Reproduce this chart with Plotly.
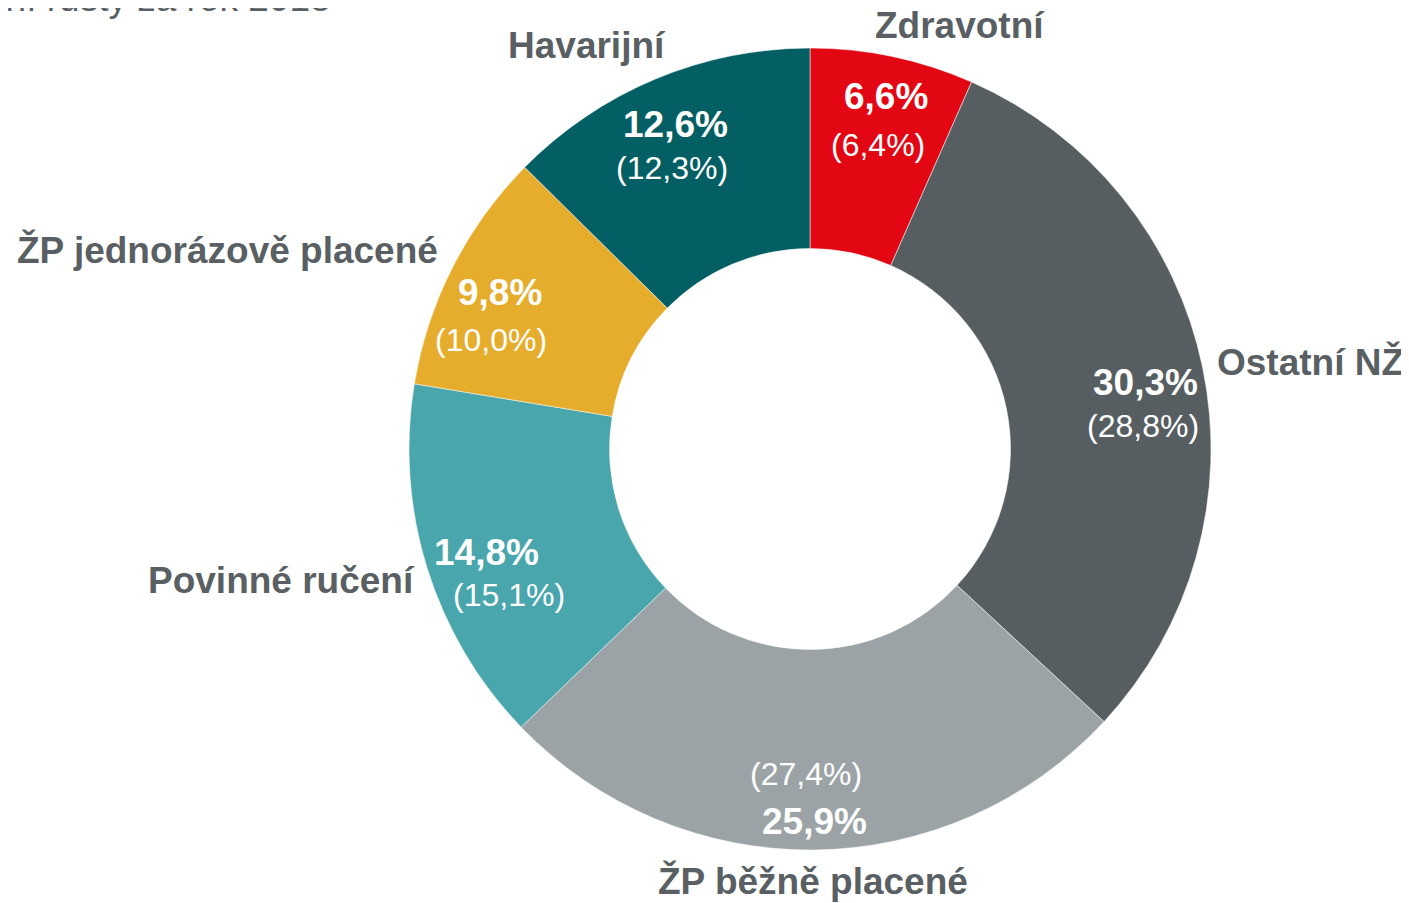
import plotly.graph_objects as go

# ---- data ----
categories = ["Zdravotní", "Ostatní NŽ", "ŽP běžně placené", "Povinné ručení",
              "ŽP jednorázově placené", "Havarijní"]
share_2018 = [6.6, 30.3, 25.9, 14.8, 9.8, 12.6]
share_2017 = [6.4, 28.8, 27.4, 15.1, 10.0, 12.3]
colors = ["#E30713", "#575E62", "#9CA3A6", "#48A6AC", "#E6AC2B", "#035F63"]
title_text = "Struktura předepsaného pojistného a meziroční růsty za rok 2018"

W, H = 1409, 903
OFF = 8  # page offset of the figure inside the browser window
CX, CY, R = 810 - OFF, 449 - OFF, 401

def fmt(v):
    return f"{v:.1f}".replace(".", ",") + "%"

fig = go.Figure(go.Pie(
    labels=categories,
    values=share_2018,
    marker=dict(colors=colors, line=dict(color="#FFFFFF", width=0.5)),
    hole=0.5,
    sort=False,
    direction="clockwise",
    rotation=0,
    textinfo="none",
    hoverinfo="label+percent",
    domain=dict(x=[(CX - R) / W, (CX + R) / W], y=[(H - CY - R) / H, (H - CY + R) / H]),
    showlegend=False,
))

# label layout (window pixel positions of text centres): current, previous, category
cur_pos = [(886, 96), (1145, 382), (814, 821), (486, 552), (500, 292), (675, 125)]
prev_pos = [(878, 145), (1143, 426), (806, 774), (509, 595), (491, 340), (672, 168)]
cat_pos = [(960, 25), (1310, 362), (813, 881), (281, 580), (228, 250), (587, 45)]

FONT = "Liberation Sans, Arial, sans-serif"
GRAY = "#595F63"

def px(x, y):
    return (x - OFF) / W, 1 - (y - OFF) / H

annotations = []
for i, c in enumerate(categories):
    x, y = px(*cur_pos[i])
    annotations.append(dict(x=x, y=y, xref="paper", yref="paper", showarrow=False,
                            text=f"<b>{fmt(share_2018[i])}</b>", xanchor="center", yanchor="middle",
                            font=dict(family=FONT, size=37, color="#FFFFFF")))
    x, y = px(*prev_pos[i])
    annotations.append(dict(x=x, y=y, xref="paper", yref="paper", showarrow=False,
                            text=f"({fmt(share_2017[i])})", xanchor="center", yanchor="middle",
                            font=dict(family=FONT, size=32, color="#FFFFFF")))
    x, y = px(*cat_pos[i])
    annotations.append(dict(x=x, y=y, xref="paper", yref="paper", showarrow=False,
                            text=f"<b>{c}</b>", xanchor="center", yanchor="middle",
                            font=dict(family=FONT, size=37, color=GRAY)))

# partially clipped title at the top-left
tx, ty = px(333, -2)
annotations.append(dict(x=tx, y=ty, xref="paper", yref="paper", showarrow=False,
                        text=title_text, xanchor="right", yanchor="middle",
                        font=dict(family=FONT, size=37, color=GRAY)))

fig.update_layout(
    width=W, height=H,
    margin=dict(l=0, r=0, t=0, b=0),
    paper_bgcolor="#FFFFFF",
    plot_bgcolor="#FFFFFF",
    annotations=annotations,
)

fig.write_html("out.html")
